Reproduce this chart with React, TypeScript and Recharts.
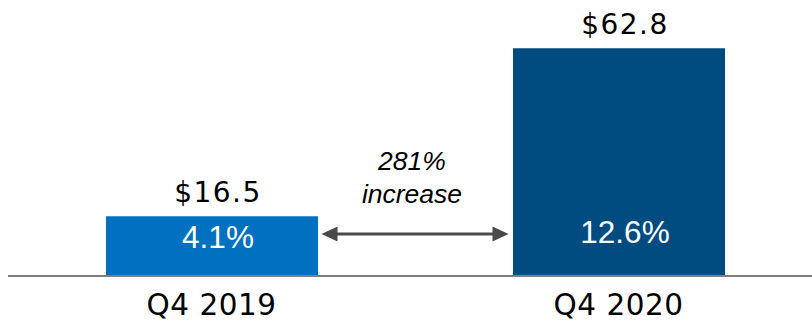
import { Bar, BarChart, Cell, LabelList, ReferenceLine, XAxis, YAxis } from "recharts";

const quarters = ["Q4 2019", "Q4 2020"];
const amounts = [16.5, 62.8];
const shares = ["4.1%", "12.6%"];
const barColors = ["#0070C0", "#004B80"];
const growthNote = ["281%", "increase"];

const data = quarters.map((quarter, i) => ({
  quarter,
  amount: amounts[i],
  share: shares[i],
}));

const BAR_SIZE = 212;
const LABEL_SHIFT = 6; // bar labels sit a bit right of the bar centre in the original
const DEJAVU = "'DejaVu Sans', sans-serif";
const LIBERATION = "'Liberation Sans', Arial, sans-serif";

const QuarterTick = ({ x, y, payload }: any) => (
  <text
    x={x}
    y={y + 39}
    textAnchor="middle"
    fontFamily={DEJAVU}
    fontSize={29.5}
    letterSpacing={0.5}
    fill="#000"
  >
    {payload.value}
  </text>
);

const AmountLabel = ({ x, y, width, value }: any) => (
  <text
    x={x + width / 2 + LABEL_SHIFT}
    y={y - 14}
    textAnchor="middle"
    fontFamily={DEJAVU}
    fontSize={28}
    letterSpacing={1.5}
    fill="#000"
  >
    ${Number(value).toFixed(1)}
  </text>
);

const ShareLabel = ({ x, y, width, height, value }: any) => (
  <text
    x={x + width / 2 + LABEL_SHIFT}
    y={Math.max(y + height / 2 + 2, y + height - 33)}
    textAnchor="middle"
    fontFamily={LIBERATION}
    fontSize={31.5}
    fill="#fff"
  >
    {value}
  </text>
);

// arrow between the two bars, with the growth note above it
const GrowthArrow = ({ x1, x2, y1 }: any) => {
  const left = x1 + BAR_SIZE / 2 + 4;
  const right = x2 - BAR_SIZE / 2 - 4;
  const y = y1 - 42;
  const mid = (left + right) / 2 - 3;
  const head = 16;
  return (
    <g>
      <line x1={left + head - 2} x2={right - head + 2} y1={y} y2={y} stroke="#4a4a4a" strokeWidth={3} />
      <polygon points={`${left},${y} ${left + head},${y - 7.5} ${left + head},${y + 7.5}`} fill="#4a4a4a" />
      <polygon points={`${right},${y} ${right - head},${y - 7.5} ${right - head},${y + 7.5}`} fill="#4a4a4a" />
      <text x={mid} y={y - 64} textAnchor="middle" fontFamily={LIBERATION} fontStyle="italic" fontSize={26.5} fill="#000">
        {growthNote[0]}
      </text>
      <text x={mid} y={y - 31} textAnchor="middle" fontFamily={LIBERATION} fontStyle="italic" fontSize={26.5} fill="#000">
        {growthNote[1]}
      </text>
    </g>
  );
};

export default function App() {
  return (
    <div
      style={{
        position: "absolute",
        left: 0,
        top: 0,
        width: 812,
        height: 322,
        overflow: "hidden",
        background: "#fff",
      }}
    >
      <BarChart
        width={822}
        height={322}
        data={data}
        margin={{ top: 22, right: 0, left: 8, bottom: 0 }}
        barSize={BAR_SIZE}
      >
        <XAxis
          dataKey="quarter"
          height={46}
          tickLine={false}
          tickSize={0}
          tickMargin={0}
          axisLine={{ stroke: "#7f7f7f", strokeWidth: 2 }}
          tick={<QuarterTick />}
          interval={0}
        />
        <YAxis hide domain={[0, 70]} />
        <Bar dataKey="amount" isAnimationActive={false}>
          {data.map((d, i) => (
            <Cell key={d.quarter} fill={barColors[i]} />
          ))}
          <LabelList dataKey="amount" content={<AmountLabel />} />
          <LabelList dataKey="share" content={<ShareLabel />} />
        </Bar>
        <ReferenceLine
          segment={[
            { x: quarters[0], y: 0 },
            { x: quarters[1], y: 0 },
          ]}
          shape={GrowthArrow}
        />
      </BarChart>
    </div>
  );
}
